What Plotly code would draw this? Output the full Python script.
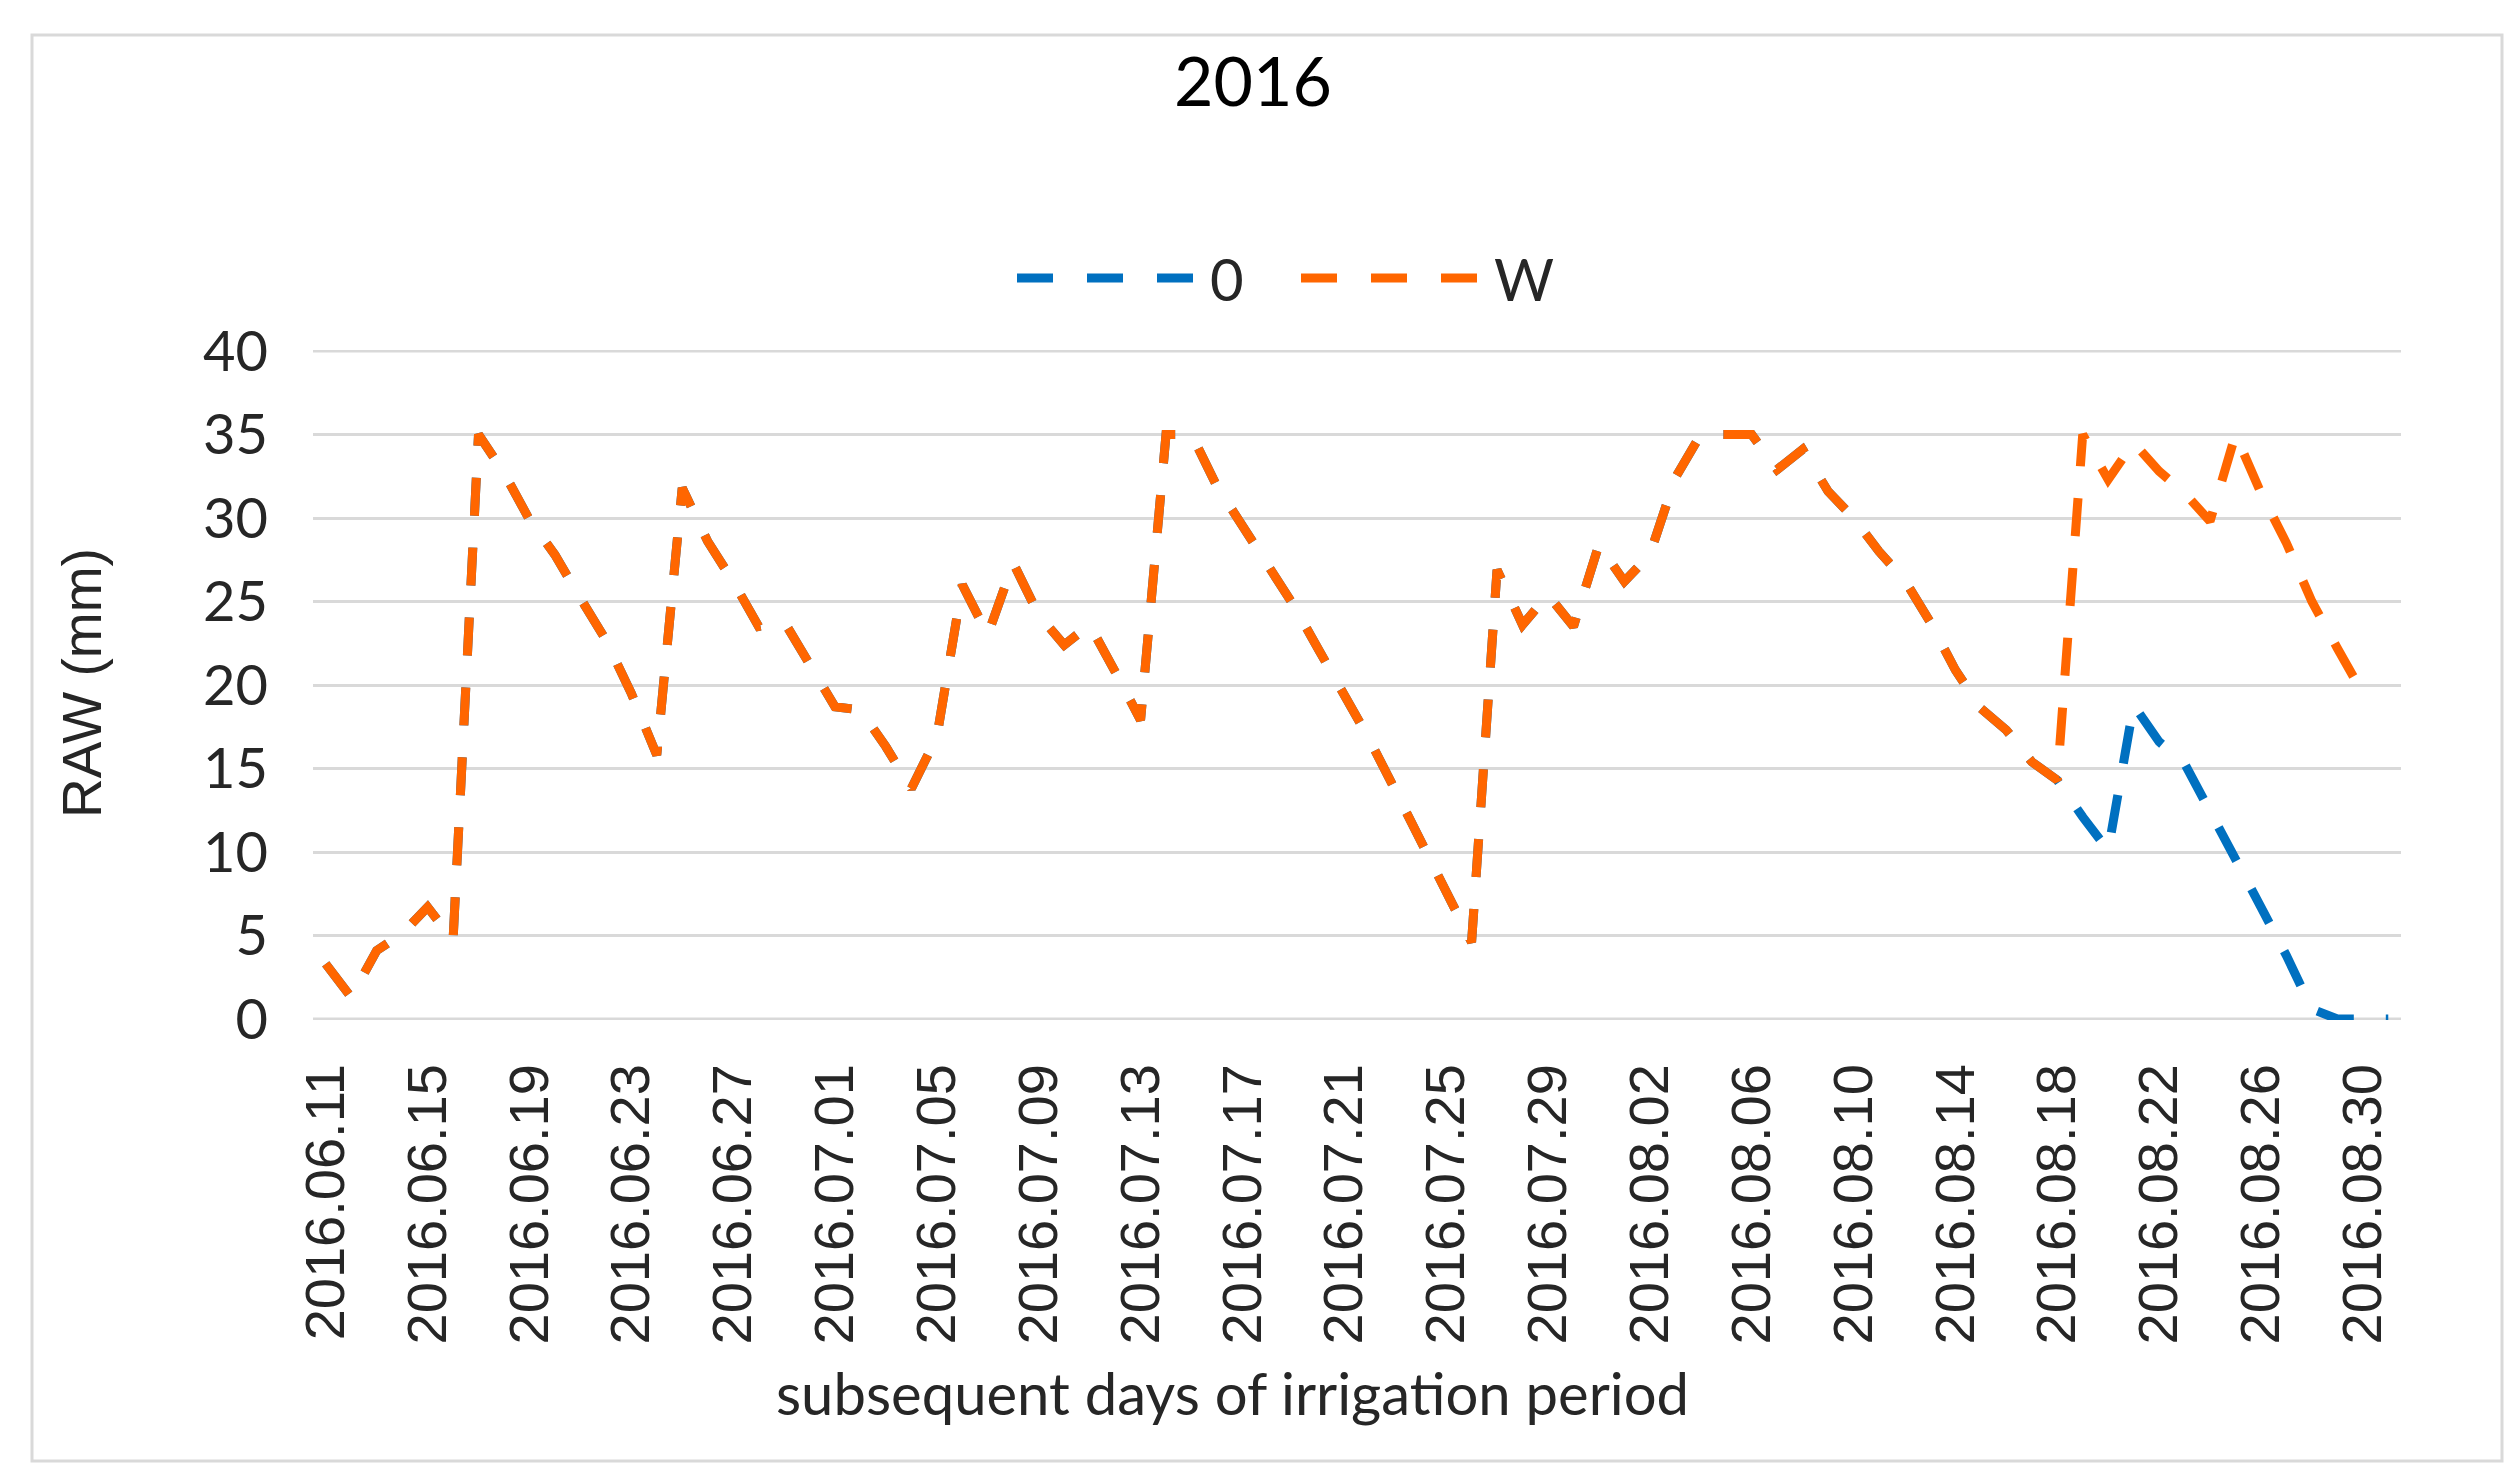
import plotly.graph_objects as go
import pandas as pd

# ---- data ----
dates = [d.strftime("%Y.%m.%d") for d in pd.date_range("2016-06-11", "2016-08-31", freq="D")]

raw_W = [3.3, 1.3, 4.1, 5.1, 6.7, 4.7, 35.0, 32.7, 29.9, 27.8,
         25.2, 22.7, 19.5, 15.8, 31.8, 28.6, 26.2, 23.5, 23.8, 21.3,
         18.7, 18.5, 16.3, 13.8, 16.9, 26.0, 23.0, 27.3, 24.2, 22.4,
         23.6, 20.8, 17.9, 35.0, 35.0, 31.9, 29.5, 27.0, 24.8, 22.1,
         19.4, 16.7, 13.7, 10.7, 7.5, 4.6, 26.9, 23.6, 25.4, 23.5,
         28.4, 26.2, 27.8, 32.4, 35.0, 35.0, 35.0, 32.9, 34.1, 31.6,
         30.0, 28.0, 26.3, 23.8, 20.9, 18.6, 17.3, 15.4, 14.3, 35.0,
         32.3, 34.5, 32.8, 31.5, 29.8, 35.0, 31.5, 28.5, 25.0, 22.2,
         19.5]

raw_0 = [3.3, 1.3, 4.1, 5.1, 6.7, 4.7, 35.0, 32.7, 29.9, 27.8,
         25.2, 22.7, 19.5, 15.8, 31.8, 28.6, 26.2, 23.5, 23.8, 21.3,
         18.7, 18.5, 16.3, 13.8, 16.9, 26.0, 23.0, 27.3, 24.2, 22.4,
         23.6, 20.8, 17.9, 35.0, 35.0, 31.9, 29.5, 27.0, 24.8, 22.1,
         19.4, 16.7, 13.7, 10.7, 7.5, 4.6, 26.9, 23.6, 25.4, 23.5,
         28.4, 26.2, 27.8, 32.4, 35.0, 35.0, 35.0, 32.9, 34.1, 31.6,
         30.0, 28.0, 26.3, 23.8, 20.9, 18.6, 17.3, 15.4, 14.3, 12.1,
         10.1, 18.8, 16.6, 15.3, 12.5, 9.6, 6.7, 3.8, 0.6, 0.0,
         0.0, 0.0]

tick_labels = dates[::4]
y_ticks = [0, 5, 10, 15, 20, 25, 30, 35, 40]

series_names = ["0", "W"]
colors = {"0": "#0070C0", "W": "#FF6600"}

# ---- geometry (pixels) ----
W, H = 2518, 1484
L, R, T, B = 305, 2393, 342, 1012


def px(x):
    return (x - L) / (R - L)


def py(y):
    return (B - y) / (B - T)


DASH = "38px,32px"
LW = 9
GRID = "#D9D9D9"

fig = go.Figure()
fig.add_trace(go.Scatter(x=dates[:len(raw_0)], y=raw_0, mode="lines", name="0",
                         line=dict(color=colors["0"], width=LW, dash=DASH),
                         showlegend=False))
fig.add_trace(go.Scatter(x=dates[:len(raw_W)], y=raw_W, mode="lines", name="W",
                         line=dict(color=colors["W"], width=LW, dash=DASH),
                         showlegend=False))

fig.update_layout(
    width=W, height=H,
    margin=dict(l=L, r=W - R, t=T, b=H - B, autoexpand=False),
    paper_bgcolor="white", plot_bgcolor="white",
    title=dict(text="2016", x=1245 / W, xref="container",
               y=1 - 74 / H, yref="container", xanchor="center", yanchor="middle",
               font=dict(family="Lato", size=68, color="#000000")),
    showlegend=False,
)

fig.update_xaxes(
    type="category", categoryorder="array", categoryarray=dates,
    range=[-0.5, len(dates) - 0.5],
    tickmode="array", tickvals=tick_labels, ticktext=tick_labels,
    tickangle=-90, ticks="", showgrid=False, zeroline=False,
    showline=False, ticklabelstandoff=32,
    tickfont=dict(family="Liberation Sans", size=56, color="#262626"),
)
fig.update_yaxes(
    range=[-0.06, 40.06], tickmode="array", tickvals=y_ticks,
    showgrid=True, gridcolor=GRID, gridwidth=3,
    zeroline=False, showline=False, ticks="", ticklabelstandoff=44,
    tickfont=dict(family="Lato", size=56, color="#262626"),
)

shapes = [
    dict(type="rect", xref="paper", yref="paper",
         x0=px(24), x1=px(2494), y0=py(1453), y1=py(27),
         line=dict(color=GRID, width=3), fillcolor="rgba(0,0,0,0)", layer="below"),
    # top gridline (at the range edge)
    dict(type="line", xref="paper", yref="y", x0=0, x1=1, y0=y_ticks[-1], y1=y_ticks[-1],
         line=dict(color=GRID, width=3), layer="below"),
    dict(type="line", xref="paper", yref="y", x0=0, x1=1, y0=y_ticks[0], y1=y_ticks[0],
         line=dict(color=GRID, width=3), layer="below"),
    dict(type="line", xref="paper", yref="paper",
         x0=px(1009), x1=px(1186), y0=py(270), y1=py(270),
         line=dict(color=colors["0"], width=LW, dash="36px,34px")),
    dict(type="line", xref="paper", yref="paper",
         x0=px(1293), x1=px(1470), y0=py(270), y1=py(270),
         line=dict(color=colors["W"], width=LW, dash="36px,34px")),
]

annotations = [
    dict(text=series_names[0], xref="paper", yref="paper", x=px(1200), y=py(270),
         xanchor="left", yanchor="middle", showarrow=False,
         font=dict(family="Lato", size=58, color="#262626")),
    dict(text=series_names[1], xref="paper", yref="paper", x=px(1484), y=py(270),
         xanchor="left", yanchor="middle", showarrow=False,
         font=dict(family="Lato", size=58, color="#262626")),
    dict(text="RAW (mm)", xref="paper", yref="paper", x=px(74), y=py(675),
         xanchor="center", yanchor="middle", textangle=-90, showarrow=False,
         font=dict(family="Liberation Sans", size=55, color="#262626")),
    dict(text="subsequent days of irrigation period", xref="paper", yref="paper",
         x=px(1224), y=py(1384), xanchor="center", yanchor="middle", showarrow=False,
         font=dict(family="Lato", size=58, color="#262626")),
]

fig.update_layout(shapes=shapes, annotations=annotations)
fig.write_html("out.html")
